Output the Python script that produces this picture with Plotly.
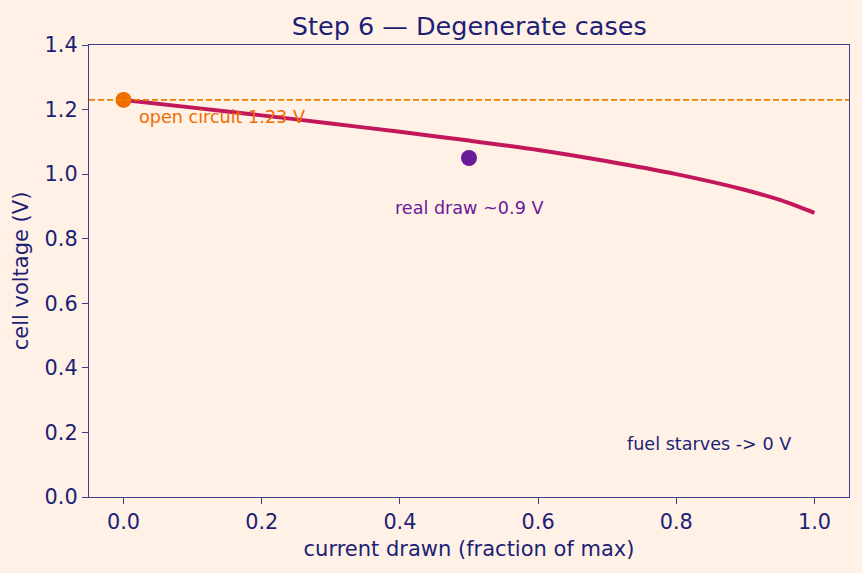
import plotly.graph_objects as go

current = [0.0, 0.1, 0.2, 0.3, 0.4, 0.5, 0.6, 0.7, 0.8, 0.9, 0.95, 1.0]
voltage = [1.23, 1.206, 1.182, 1.157, 1.131, 1.104, 1.075, 1.040, 1.000, 0.951, 0.920, 0.880]

ocv_x, ocv_y = [0.0], [1.23]
real_x, real_y = [0.5], [1.05]

NAVY = "#1c1f75"
BG = "#fff1e6"

fig = go.Figure()
fig.add_hline(y=1.23, line=dict(color="#ef7d00", width=1.6, dash="6px,3px"))
fig.add_trace(go.Scatter(x=current, y=voltage, mode="lines", line=dict(color="#c2185b", width=4, shape="spline", smoothing=0.8), showlegend=False))
fig.add_trace(go.Scatter(x=ocv_x, y=ocv_y, mode="markers", marker=dict(color="#ef6c00", size=16), showlegend=False))
fig.add_trace(go.Scatter(x=real_x, y=real_y, mode="markers", marker=dict(color="#6a1b9a", size=16), showlegend=False))

fig.add_annotation(x=0.02, y=1.177, text="open circuit 1.23 V", showarrow=False, xanchor="left", yanchor="middle", font=dict(color="#ef6c00", size=17.6))
fig.add_annotation(x=0.5, y=0.895, text="real draw ~0.9 V", showarrow=False, xanchor="center", yanchor="middle", font=dict(color="#6a1b9a", size=17.6))
fig.add_annotation(x=0.848, y=0.164, text="fuel starves -> 0 V", showarrow=False, xanchor="center", yanchor="middle", font=dict(color=NAVY, size=17.6))

axis_common = dict(showgrid=False, zeroline=False, showline=True, mirror=True, linecolor="#3c3f8c", linewidth=1.3,
                   ticks="outside", tickcolor="#3c3f8c", ticklen=6, tickfont=dict(color=NAVY, size=20.8), title_font=dict(color=NAVY, size=21))
fig.update_layout(
    width=862, height=573,
    paper_bgcolor=BG, plot_bgcolor=BG,
    font=dict(family="DejaVu Sans", color=NAVY),
    margin=dict(l=89, r=13, t=45, b=76),
    title=dict(text="Step 6 — Degenerate cases", x=0.5444, xanchor="center", y=0.955, yanchor="middle", font=dict(size=25.5, color=NAVY)),
    xaxis=dict(range=[-0.05, 1.05], tickvals=[0, 0.2, 0.4, 0.6, 0.8, 1.0], ticktext=["0.0", "0.2", "0.4", "0.6", "0.8", "1.0"],
               title=dict(text="current drawn (fraction of max)", standoff=8), **axis_common),
    yaxis=dict(range=[0, 1.4], tickvals=[0, 0.2, 0.4, 0.6, 0.8, 1.0, 1.2, 1.4], ticktext=["0.0", "0.2", "0.4", "0.6", "0.8", "1.0", "1.2", "1.4"],
               title=dict(text="cell voltage (V)", standoff=10), **axis_common),
)
fig.write_html("out.html")
